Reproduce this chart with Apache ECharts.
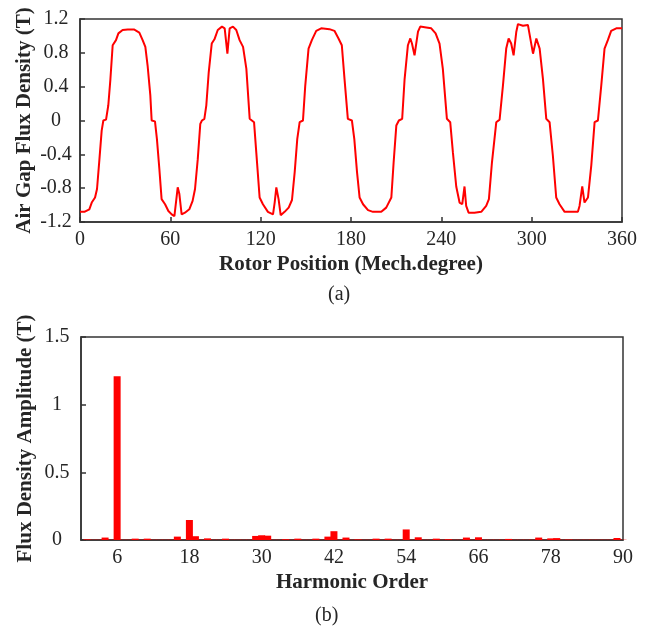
<!DOCTYPE html>
<html>
<head>
<meta charset="utf-8">
<script src="https://cdn.jsdelivr.net/npm/echarts@6/dist/echarts.min.js"></script>
<style>html,body{margin:0;padding:0;background:#fff;}#c{width:654px;height:633px;}</style>
</head>
<body>
<div id="c"></div>
<script>
// (a) Air gap flux density vs rotor position
const rotorPosition = [0,2.9,6.2,7.8,10,11.3,12.9,14.4,15.5,17.3,18.8,20.2,21.7,23.9,25.5,28.3,31.7,36.1,39.4,41.6,43.4,44.9,46.7,47.6,49.8,51.1,52.7,54.2,56.5,58.7,60.9,62.7,64.9,66,67.5,69.7,72.6,74.8,76.4,78.2,79.9,81,82.6,83.9,85.5,87.5,89.3,91.5,94.3,96.1,97.9,99.4,101.6,103.8,106,108.3,110.5,112.7,115.6,117.1,119.3,121.5,124.8,128.2,129.3,130.4,131.9,133.3,135.9,138.6,140.8,142.6,144.3,145.9,148.1,149.6,151.8,154,156.9,160.2,165.7,169,171.7,173.9,175.7,177.9,180.6,182.2,184,185.7,188,191.3,194.6,200.1,203.4,206.8,208.3,210.1,211.8,214,215.6,217.8,219.4,220.5,222.2,224.5,226,230,233.3,236.2,238.8,241,243.7,245.9,247.7,249.9,252.1,253.9,255.4,256.5,258.1,262,266.5,269.8,271.6,273.6,276.5,278.7,280.9,283.1,284.7,286.4,288,289.8,290.9,294.2,297.5,298.6,300.9,303.1,305.3,307.5,309.7,311.9,314.1,316.3,318.5,321.9,326.3,330.7,331.8,333.6,335.1,337.4,339.6,341.8,344,346.2,348.4,350.6,352.8,356.2,360];
const airGapFlux = [-1.08,-1.08,-1.05,-0.97,-0.91,-0.81,-0.46,-0.12,0,0.01,0.18,0.49,0.89,0.95,1.03,1.07,1.075,1.075,1.04,0.95,0.87,0.65,0.30,0,-0.01,-0.22,-0.57,-0.93,-0.99,-1.07,-1.11,-1.13,-0.79,-0.87,-1.11,-1.09,-1.05,-0.95,-0.81,-0.46,-0.04,0,0.02,0.18,0.57,0.91,0.96,1.07,1.11,1.09,0.79,1.09,1.11,1.07,0.95,0.87,0.61,0.02,-0.02,-0.38,-0.91,-0.99,-1.08,-1.11,-0.97,-0.79,-0.93,-1.12,-1.08,-1.03,-0.94,-0.61,-0.22,-0.02,0,0.41,0.85,0.95,1.06,1.09,1.08,1.06,0.97,0.89,0.49,0.02,0,-0.22,-0.61,-0.91,-0.99,-1.06,-1.08,-1.08,-1.03,-0.91,-0.5,-0.06,0,0.02,0.49,0.89,0.97,0.91,0.77,1.05,1.11,1.10,1.09,1.03,0.91,0.61,0.02,-0.02,-0.38,-0.78,-0.97,-0.99,-0.78,-1.01,-1.09,-1.09,-1.08,-1.01,-0.93,-0.5,-0.02,0.01,0.41,0.85,0.97,0.91,0.77,1.05,1.14,1.12,1.13,1.13,0.79,0.97,0.85,0.49,0.02,-0.02,-0.42,-0.91,-0.99,-1.08,-1.08,-1.08,-1.01,-0.78,-0.97,-0.91,-0.53,-0.02,0,0.41,0.85,0.95,1.06,1.09,1.09];
const topXTicks = [0,60,120,180,240,300,360];
const topYTicks = [-1.2,-0.8,-0.4,0,0.4,0.8,1.2];

// (b) Harmonic spectrum, orders 1..90
const harmonicOrder = [1,2,3,4,5,6,7,8,9,10,11,12,13,14,15,16,17,18,19,20,21,22,23,24,25,26,27,28,29,30,31,32,33,34,35,36,37,38,39,40,41,42,43,44,45,46,47,48,49,50,51,52,53,54,55,56,57,58,59,60,61,62,63,64,65,66,67,68,69,70,71,72,73,74,75,76,77,78,79,80,81,82,83,84,85,86,87,88,89,90];
const harmonicAmplitude = [0.005,0.002,0.002,0.018,0.002,1.21,0.002,0.002,0.01,0.002,0.01,0.002,0.002,0.002,0.002,0.025,0.002,0.148,0.028,0.002,0.012,0.002,0.002,0.01,0.002,0.002,0.002,0.002,0.03,0.035,0.032,0.002,0.002,0.006,0.002,0.01,0.002,0.002,0.01,0.002,0.025,0.065,0.002,0.018,0.002,0.005,0.002,0.002,0.01,0.002,0.01,0.002,0.002,0.078,0.002,0.02,0.002,0.002,0.01,0.002,0.006,0.002,0.002,0.018,0.002,0.02,0.002,0.002,0.002,0.002,0.008,0.002,0.002,0.002,0.002,0.018,0.002,0.012,0.014,0.002,0.004,0.002,0.002,0.002,0.002,0.002,0.002,0.002,0.015,0.002];
const bottomXLabels = [6,18,30,42,54,66,78,90];
const bottomYTicks = [0,0.5,1,1.5];

const FONT = "'Liberation Serif','Times New Roman',serif";
const chart = echarts.init(document.getElementById('c'), null, {renderer:'canvas'});
const lab = {fontFamily:FONT, fontSize:20, color:'#262626'};
const nameStyle = {fontFamily:FONT, fontSize:21, fontWeight:'bold', color:'#262626'};

chart.setOption({
  animation:false,
  backgroundColor:'#fff',
  grid:[
    {left:80, top:19, width:542, height:203, show:true, borderColor:'#333', borderWidth:1.5, backgroundColor:'transparent', containLabel:false},
    {left:81, top:337, width:542, height:203, show:true, borderColor:'#333', borderWidth:1.5, backgroundColor:'transparent', containLabel:false}
  ],
  xAxis:[
    {gridIndex:0, type:'value', min:0, max:360, interval:60,
     name:'Rotor Position (Mech.degree)', nameLocation:'middle', nameGap:32, nameMoveOverlap:false, nameTextStyle:nameStyle,
     axisLine:{show:true, onZero:false, lineStyle:{color:'#333', width:1.5}},
     axisTick:{show:true, inside:true, length:5, customValues:topXTicks, lineStyle:{color:'#333', width:1.5}},
     axisLabel:Object.assign({margin:8, customValues:topXTicks}, lab),
     splitLine:{show:false}},
    {gridIndex:1, type:'value', min:0, max:90,
     name:'Harmonic Order', nameLocation:'middle', nameGap:32, nameMoveOverlap:false, nameTextStyle:nameStyle,
     axisLine:{show:true, onZero:false, lineStyle:{color:'#333', width:1.5}},
     axisTick:{show:false},
     axisLabel:Object.assign({margin:8, customValues:bottomXLabels}, lab),
     splitLine:{show:false}}
  ],
  yAxis:[
    {gridIndex:0, type:'value', min:-1.2, max:1.2, interval:0.4,
     name:'Air Gap Flux Density (T)', nameLocation:'middle', nameGap:45, nameRotate:90, nameMoveOverlap:false, nameTextStyle:nameStyle,
     axisLine:{show:true, onZero:false, lineStyle:{color:'#333', width:1.5}},
     axisTick:{show:true, inside:true, length:5, customValues:topYTicks, lineStyle:{color:'#333', width:1.5}},
     axisLabel:Object.assign({margin:24, align:'center', customValues:topYTicks, formatter:v=>String(Math.round(v*10)/10)}, lab),
     splitLine:{show:false}},
    {gridIndex:1, type:'value', min:0, max:1.5, interval:0.5,
     name:'Flux Density Amplitude (T)', nameLocation:'middle', nameGap:45, nameRotate:90, nameMoveOverlap:false, nameTextStyle:nameStyle,
     axisLine:{show:true, onZero:false, lineStyle:{color:'#333', width:1.5}},
     axisTick:{show:true, inside:true, length:5, customValues:bottomYTicks, lineStyle:{color:'#333', width:1.5}},
     axisLabel:Object.assign({margin:24, align:'center', customValues:bottomYTicks}, lab),
     splitLine:{show:false}}
  ],
  series:[
    {type:'line', xAxisIndex:0, yAxisIndex:0, showSymbol:false, symbol:'none',
     data:rotorPosition.map((x,i)=>[x, airGapFlux[i]]),
     lineStyle:{color:'#ff0000', width:2}, itemStyle:{color:'#ff0000'}, z:3},
    {type:'bar', xAxisIndex:1, yAxisIndex:1, barWidth:7,
     data:harmonicOrder.map((h,i)=>[h, harmonicAmplitude[i]]),
     itemStyle:{color:'#ff0000'}, z:1}
  ],
  graphic:[
    {type:'text', left:328, top:285, style:{text:'(a)', font:"20px "+FONT, fill:'#262626'}},
    {type:'text', left:315, top:606, style:{text:'(b)', font:"20px "+FONT, fill:'#262626'}}
  ]
});
</script>
</body>
</html>
